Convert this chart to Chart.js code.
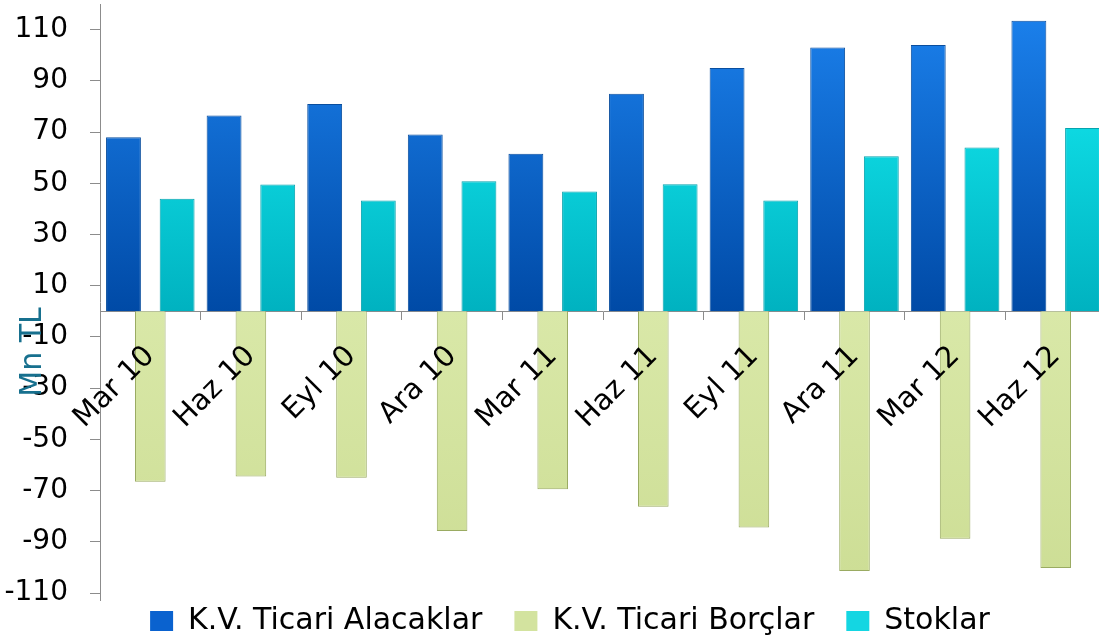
<!DOCTYPE html>
<html>
<head>
<meta charset="utf-8">
<script src="https://cdn.jsdelivr.net/npm/chart.js@4.4.1/dist/chart.umd.min.js"></script>
<style>
  html, body { margin: 0; padding: 0; background: #fff; overflow: hidden; }
  #wrap { width: 1107px; height: 638px; position: relative; }
</style>
</head>
<body>
<div id="wrap"><canvas id="grafico"></canvas></div>
<script>
// Datos
const donemler = ["Mar 10", "Haz 10", "Eyl 10", "Ara 10", "Mar 11", "Haz 11", "Eyl 11", "Ara 11", "Mar 12", "Haz 12"];
const alacaklar = [68, 76.5, 81, 69, 61.5, 85, 95, 103, 104, 113.5];
const borclar = [-66.5, -64.5, -65, -85.8, -69.5, -76.3, -84.4, -101.4, -88.8, -100.2];
const stoklar = [44, 49.5, 43.3, 50.8, 46.8, 49.6, 43.3, 60.6, 64, 71.6];
const yTikler = [-110, -90, -70, -50, -30, -10, 10, 30, 50, 70, 90, 110];

const FONT = "'DejaVu Sans', sans-serif";

// degrade vertical segun el area del grafico
function degrade(ust, alt, yedek) {
  return function (c) {
    const chart = c.chart;
    if (!chart.chartArea) return yedek;
    const y0 = chart.scales.y.getPixelForValue(0);
    const g = chart.ctx.createLinearGradient(0, chart.chartArea.top, 0, y0);
    g.addColorStop(0, ust);
    g.addColorStop(1, alt);
    return g;
  };
}
function degradeAlt(ust, alt, yedek) {
  return function (c) {
    const chart = c.chart;
    if (!chart.chartArea) return yedek;
    const y0 = chart.scales.y.getPixelForValue(0);
    const g = chart.ctx.createLinearGradient(0, y0, 0, chart.chartArea.bottom);
    g.addColorStop(0, ust);
    g.addColorStop(1, alt);
    return g;
  };
}

const legendRenkleri = ["#0A62CF", "#D3E39F", "#14D6E2"];

// eksen basligi "Mn TL" + lejandi biraz saga kaydir
const eksenBasligi = {
  id: "eksenBasligi",
  afterLayout(chart) {
    chart.legend.left += 17;
    chart.legend.right += 17;
  },
  afterDraw(chart) {
    const ctx = chart.ctx;
    ctx.save();
    ctx.translate(33, 352);
    ctx.rotate(-Math.PI / 2);
    ctx.font = "30px " + FONT;
    ctx.fillStyle = "#17708E";
    ctx.textAlign = "center";
    ctx.textBaseline = "middle";
    ctx.fillText("Mn TL", 0, 0);
    ctx.restore();
  }
};

const ctx = document.getElementById("grafico").getContext("2d");
new Chart(ctx, {
  type: "bar",
  data: {
    labels: donemler,
    datasets: [
      {
        label: "K.V. Ticari Alacaklar",
        data: alacaklar,
        backgroundColor: degrade("#1C82EE", "#004AA6", "#0A62CF"),
        borderColor: "#0A4E9E",
        borderWidth: 1,
        barPercentage: 1.3
      },
      {
        label: "K.V. Ticari Borçlar",
        data: borclar,
        backgroundColor: degradeAlt("#D9E8A8", "#CCDD94", "#D3E39F"),
        borderColor: "#9AAB62",
        borderWidth: 1,
        barPercentage: 1.14
      },
      {
        label: "Stoklar",
        data: stoklar,
        backgroundColor: degrade("#16F2F8", "#00B2C0", "#14D6E2"),
        borderColor: "#06A3AE",
        borderWidth: 1,
        barPercentage: 1.3
      }
    ]
  },
  options: {
    responsive: true,
    maintainAspectRatio: false,
    animation: false,
    layout: { padding: { top: 4, left: 0, right: 1, bottom: -34 } },
    datasets: { bar: { categoryPercentage: 0.8 } },
    scales: {
      x: {
        position: { y: 0 },
        grid: { display: true, drawOnChartArea: false, drawTicks: true, tickLength: 8, color: "#8C8C8C", offset: true },
        border: { display: true, color: "#8C8C8C", width: 1 },
        ticks: {
          z: 1,
          minRotation: 45,
          maxRotation: 45,
          autoSkip: false,
          padding: 20,
          color: "#000",
          font: { family: FONT, size: 29 }
        },
        afterFit(s) { s.height = 0; s.paddingLeft = 0; s.paddingRight = 0; }
      },
      y: {
        min: -112.7,
        max: 120,
        grid: { display: true, drawOnChartArea: false, drawTicks: true, tickLength: 10, color: "#8C8C8C" },
        border: { display: true, color: "#8C8C8C", width: 1 },
        ticks: {
          padding: 22,
          color: "#000",
          font: { family: FONT, size: 28 }
        },
        afterBuildTicks(s) { s.ticks = yTikler.map(v => ({ value: v })); },
        afterFit(s) { s.width = 100; s.paddingTop = 0; s.paddingBottom = 0; }
      },
      // lejandi grafigin altina yaklastirmak icin bos eksen
      bosluk: {
        type: "linear",
        position: "bottom",
        display: false,
        afterFit(s) { s.height = -26; }
      }
    },
    plugins: {
      legend: {
        position: "bottom",
        labels: {
          color: "#000",
          font: { family: FONT, size: 30 },
          boxWidth: 23,
          boxHeight: 20,
          padding: 32,
          generateLabels(chart) {
            const items = Chart.defaults.plugins.legend.labels.generateLabels(chart);
            items.forEach((it, i) => { it.fillStyle = legendRenkleri[i]; it.lineWidth = 0; });
            return items;
          }
        }
      },
      tooltip: { enabled: false }
    }
  },
  plugins: [eksenBasligi]
});
</script>
</body>
</html>
